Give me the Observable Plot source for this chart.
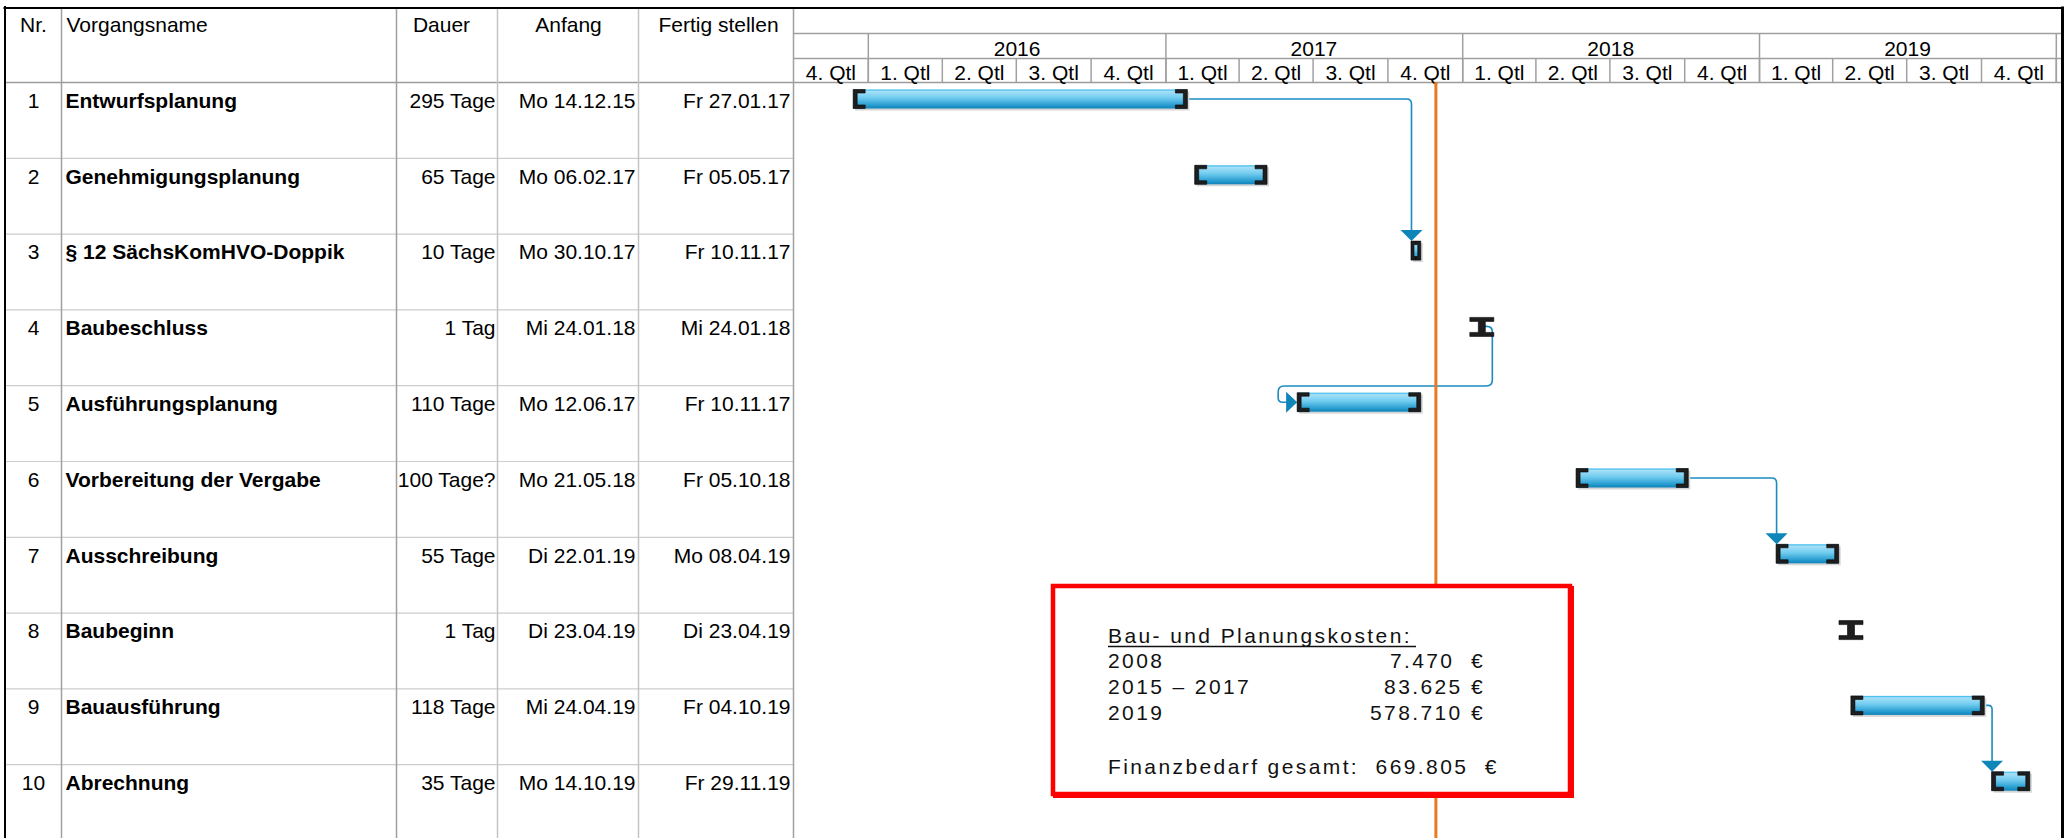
<!DOCTYPE html>
<html><head><meta charset="utf-8">
<script src="https://cdn.jsdelivr.net/npm/d3@7"></script>
<script src="https://cdn.jsdelivr.net/npm/@observablehq/plot@0.6"></script>
<style>
body{margin:0;background:#fff;}
#wrap{position:relative;width:2067px;height:838px;overflow:hidden;background:#fff;}
#wrap svg{position:absolute;left:0;top:0;}
</style></head><body><div id="wrap"></div>
<script>
// ---------- data ----------
const taskNr = [1, 2, 3, 4, 5, 6, 7, 8, 9, 10];
const taskNames = ["Entwurfsplanung", "Genehmigungsplanung", "§ 12 SächsKomHVO-Doppik", "Baubeschluss",
  "Ausführungsplanung", "Vorbereitung der Vergabe", "Ausschreibung", "Baubeginn", "Bauausführung", "Abrechnung"];
const durations = ["295 Tage", "65 Tage", "10 Tage", "1 Tag", "110 Tage", "100 Tage?", "55 Tage", "1 Tag", "118 Tage", "35 Tage"];
const startLabels = ["Mo 14.12.15", "Mo 06.02.17", "Mo 30.10.17", "Mi 24.01.18", "Mo 12.06.17", "Mo 21.05.18",
  "Di 22.01.19", "Di 23.04.19", "Mi 24.04.19", "Mo 14.10.19"];
const finishLabels = ["Fr 27.01.17", "Fr 05.05.17", "Fr 10.11.17", "Mi 24.01.18", "Fr 10.11.17", "Fr 05.10.18",
  "Mo 08.04.19", "Di 23.04.19", "Fr 04.10.19", "Fr 29.11.19"];
const links = [[1, 3], [4, 5], [6, 7], [9, 10]];
const headerLabels = ["Nr.", "Vorgangsname", "Dauer", "Anfang", "Fertig stellen"];
const yearLabels = [2016, 2017, 2018, 2019];
const quarterLabels = ["1. Qtl", "2. Qtl", "3. Qtl", "4. Qtl"];
const statusDate = "2017-11-29";
const costTitle = "Bau- und Planungskosten:";
const costLabels = ["2008", "2015 – 2017", "2019"];
const costValues = ["7.470  €", "83.625 €", "578.710 €"];
const costTotal = "Finanzbedarf gesamt:  669.805  €";

// ---------- layout ----------
const W = 2067, H = 838;
const FONT = "'Liberation Sans', Arial, Helvetica, sans-serif";
const ROW_H = 75.8, HEAD_B = 82;
const GANTT_L = 793, GANTT_R = 2061.5;
const colLines = [61, 396, 497, 638, 793];
const BAR_TOP = 7.5, BAR_H = 19, BAR_MID = 17, TEXT_BASE = 25.3;
const BLUE = "#1a8cbf";

const parseLabel = s => {
  const [dd, mm, yy] = s.split(" ")[1].split(".").map(Number);
  return new Date(Date.UTC(2000 + yy, mm - 1, dd));
};
const tasks = taskNr.map((nr, i) => ({
  nr, row: i, name: taskNames[i], dur: durations[i], startLabel: startLabels[i], finishLabel: finishLabels[i],
  start: parseLabel(startLabels[i]), end: d3.utcDay.offset(parseLabel(finishLabels[i]), 1),
  days: parseInt(durations[i])
}));
const bars = tasks.filter(d => d.days > 1);
const milestones = tasks.filter(d => d.days <= 1);

const xStart = new Date(Date.UTC(2015, 9, 1)), xEnd = new Date(Date.UTC(2020, 0, 8));
const quarterStarts = d3.utcMonth.every(3).range(xStart, xEnd);
const yearStarts = d3.utcYear.range(new Date(Date.UTC(2016, 0, 1)), xEnd);
const quarterCells = quarterStarts.filter(q => d3.utcMonth.offset(q, 3) <= xEnd)
  .map(q => ({mid: new Date((+q + +d3.utcMonth.offset(q, 3)) / 2), label: quarterLabels[q.getUTCMonth() / 3]}));
const yearCells = yearLabels.map(y => ({mid: new Date(Date.UTC(y, 6, 2)), label: String(y)}));

const yScale = {type: "linear", domain: [0, 10], range: [HEAD_B, HEAD_B + 10 * ROW_H], axis: null};

// ---------- helpers ----------
function roundedPath(pts, r) {
  let d = `M${pts[0][0]},${pts[0][1]}`;
  for (let i = 1; i < pts.length - 1; i++) {
    const [x0, y0] = pts[i - 1], [x1, y1] = pts[i], [x2, y2] = pts[i + 1];
    const d1 = Math.hypot(x1 - x0, y1 - y0), d2 = Math.hypot(x2 - x1, y2 - y1);
    const rr = Math.min(r, d1 / 2, d2 / 2);
    const ax = x1 + (x0 - x1) / d1 * rr, ay = y1 + (y0 - y1) / d1 * rr;
    const bx = x1 + (x2 - x1) / d2 * rr, by = y1 + (y2 - y1) / d2 * rr;
    d += `L${ax},${ay}Q${x1},${y1} ${bx},${by}`;
  }
  const l = pts[pts.length - 1];
  return d + `L${l[0]},${l[1]}`;
}

const ibeam = {
  draw(ctx) {
    ctx.moveTo(-12, -9.5); ctx.lineTo(12, -9.5); ctx.lineTo(12, -5.5); ctx.lineTo(3.5, -5.5);
    ctx.lineTo(3.5, 5.5); ctx.lineTo(12, 5.5); ctx.lineTo(12, 9.5); ctx.lineTo(-12, 9.5);
    ctx.lineTo(-12, 5.5); ctx.lineTo(-3.5, 5.5); ctx.lineTo(-3.5, -5.5); ctx.lineTo(-12, -5.5); ctx.closePath();
  }
};

function defsMark() {
  const g = d3.create("svg:g");
  const lg = g.append("defs").append("linearGradient").attr("id", "barGrad")
    .attr("x1", 0).attr("y1", 0).attr("x2", 0).attr("y2", 1);
  [[0, "#27b3ea"], [0.1, "#a6e0f7"], [0.45, "#6fcbef"], [0.85, "#2399cd"], [1, "#0f82b8"]]
    .forEach(([o, c]) => lg.append("stop").attr("offset", o).attr("stop-color", c));
  return g.node();
}

function capsMark(index, scales) {
  const sx = scales.x, sy = scales.y;
  const g = d3.create("svg:g").attr("fill", "#1e1e1e").attr("stroke", "#050505").attr("stroke-width", 0.6);
  for (const d of bars) {
    const xs = sx(d.start), xe = sx(d.end), yt = sy(d.row) + BAR_TOP, h = BAR_H;
    const w = xe - xs;
    const arm = Math.min(12, w / 2), st = w < 20 ? 3 : 4, th = 3.5;
    g.append("path").attr("d",
      `M${xs},${yt}h${arm}v${th}h${-(arm - st)}v${h - 2 * th}h${arm - st}v${th}h${-arm}z`);
    g.append("path").attr("d",
      `M${xe},${yt}h${-arm}v${th}h${arm - st}v${h - 2 * th}h${-(arm - st)}v${th}h${arm}z`);
  }
  return g.node();
}

function linksMark(index, scales) {
  const sx = scales.x, sy = scales.y;
  const g = d3.create("svg:g");
  for (const [a, b] of links) {
    const A = tasks[a - 1], B = tasks[b - 1];
    const fx = A.days <= 1 ? sx(d3.utcHour.offset(A.start, 12)) : sx(A.end);
    const fy = sy(A.row) + BAR_MID;
    const bs = sx(B.start), bTop = sy(B.row) + BAR_TOP, bMid = sy(B.row) + BAR_MID;
    if (bs > fx) {
      const X = bs + 0.5;
      g.append("path").attr("d", roundedPath([[fx, fy], [X, fy], [X, bTop - 10]], 5))
        .attr("fill", "none").attr("stroke", BLUE).attr("stroke-width", 1.6);
      g.append("path").attr("d", `M${X - 11},${bTop - 11}L${X + 11},${bTop - 11}L${X},${bTop}Z`).attr("fill", "#0f86b8");
    } else {
      const pts = [[fx, fy], [fx + 11, fy], [fx + 11, sy(B.row) + 0.8], [bs - 19, sy(B.row) + 0.8], [bs - 19, bMid], [bs - 10, bMid]];
      g.append("path").attr("d", roundedPath(pts, 6))
        .attr("fill", "none").attr("stroke", BLUE).attr("stroke-width", 1.6);
      g.append("path").attr("d", `M${bs - 11},${bMid - 10.5}L${bs - 11},${bMid + 10.5}L${bs},${bMid}Z`).attr("fill", "#0f86b8");
    }
  }
  return g.node();
}

function costBoxMark() {
  const g = d3.create("svg:g");
  g.append("rect").attr("x", 1055).attr("y", 588).attr("width", 517).attr("height", 208)
    .attr("fill", "none").attr("stroke", "#ff0000").attr("stroke-width", 4);
  g.append("rect").attr("x", 1053).attr("y", 586).attr("width", 517).attr("height", 208)
    .attr("fill", "#fff").attr("stroke", "#ff0000").attr("stroke-width", 4.5);
  const t = g.append("g").attr("font-family", FONT).attr("font-size", 21).attr("fill", "#111")
    .attr("text-anchor", "start")
    .style("letter-spacing", "2.4px").style("white-space", "pre");
  const left = 1108, right = 1485;
  t.append("text").attr("x", left).attr("y", 643).attr("text-anchor", "start").text(costTitle);
  g.append("line").attr("x1", left).attr("x2", 1416).attr("y1", 646.5).attr("y2", 646.5)
    .attr("stroke", "#111").attr("stroke-width", 1.6);
  const base = [668, 694, 720];
  costLabels.forEach((l, i) => {
    t.append("text").attr("x", left).attr("y", base[i]).attr("text-anchor", "start").text(l);
    t.append("text").attr("x", right).attr("y", base[i]).attr("text-anchor", "end").text(costValues[i]);
  });
  t.append("text").attr("x", left).attr("y", 774).attr("text-anchor", "start").text(costTotal);
  return g.node();
}

// ---------- table ----------
const txt = {fontSize: 21, fill: "#000", lineAnchor: "bottom"};
const head = {fontSize: 21, fill: "#000", lineAnchor: "bottom", frameAnchor: "top", dy: 31.7};
const table = Plot.plot({
  width: W, height: H, margin: 0,
  style: {background: "#fff", fontFamily: FONT, overflow: "visible"},
  x: {type: "linear", domain: [0, W], range: [0, W], axis: null},
  y: yScale,
  marks: [
    Plot.ruleY(tasks.slice(1), {y: "row", x1: 5, x2: GANTT_L, stroke: "#cdcdcd", strokeWidth: 1.2}),
    Plot.ruleY([0], {x1: 5, x2: GANTT_R, stroke: "#9c9c9c", strokeWidth: 1.5}),
    Plot.ruleX(colLines, {x: d => d, insetTop: 8, stroke: (d, i) => (i === 2 || i === 3) ? "#c4c4c4" : "#a0a0a0", strokeWidth: 1.5}),
    Plot.ruleX([4.5], {x: d => d, insetTop: 6, stroke: "#000", strokeWidth: 2}),
    Plot.ruleY([0], {x1: 3.5, x2: 2064, dy: -74.5, stroke: "#000", strokeWidth: 2}),
    // headers
    Plot.text([headerLabels[0]], {...head, x: 33, text: d => d, textAnchor: "middle"}),
    Plot.text([headerLabels[1]], {...head, x: 66, text: d => d, textAnchor: "start"}),
    Plot.text([headerLabels[2]], {...head, x: 441, text: d => d, textAnchor: "middle"}),
    Plot.text([headerLabels[3]], {...head, x: 568, text: d => d, textAnchor: "middle"}),
    Plot.text([headerLabels[4]], {...head, x: 718, text: d => d, textAnchor: "middle"}),
    // rows
    Plot.text(tasks, {...txt, x: 33, y: "row", dy: TEXT_BASE, text: d => String(d.nr), textAnchor: "middle"}),
    Plot.text(tasks, {...txt, x: 65, y: "row", dy: TEXT_BASE, text: "name", textAnchor: "start", fontWeight: "bold"}),
    Plot.text(tasks, {...txt, x: 495, y: "row", dy: TEXT_BASE, text: "dur", textAnchor: "end"}),
    Plot.text(tasks, {...txt, x: 635, y: "row", dy: TEXT_BASE, text: "startLabel", textAnchor: "end"}),
    Plot.text(tasks, {...txt, x: 790, y: "row", dy: TEXT_BASE, text: "finishLabel", textAnchor: "end"})
  ]
});

// ---------- gantt ----------
const gantt = Plot.plot({
  width: W, height: H, margin: 0,
  style: {background: "transparent", fontFamily: FONT, overflow: "visible"},
  x: {type: "utc", domain: [xStart, xEnd], range: [GANTT_L, GANTT_R], axis: null},
  y: yScale,
  marks: [
    defsMark,
    Plot.ruleY([0], {x1: xStart, x2: xEnd, dy: -49, stroke: "#a0a0a0", strokeWidth: 1.5}),
    Plot.ruleY([0], {x1: xStart, x2: xEnd, dy: -24, stroke: "#a0a0a0", strokeWidth: 1.5}),
    Plot.ruleX(yearStarts, {x: d => d, insetTop: 33, insetBottom: H - HEAD_B, stroke: "#a0a0a0", strokeWidth: 1.5}),
    Plot.ruleX(quarterStarts.slice(1), {x: d => d, insetTop: 58, insetBottom: H - HEAD_B, stroke: "#a0a0a0", strokeWidth: 1.5}),
    Plot.text(yearCells, {x: "mid", text: "label", frameAnchor: "top", dy: 55, lineAnchor: "bottom", fontSize: 21, fill: "#000"}),
    Plot.text(quarterCells, {x: "mid", text: "label", frameAnchor: "top", dy: 79, lineAnchor: "bottom", fontSize: 21, fill: "#000"}),
    linksMark,
    Plot.ruleX([statusDate], {x: d => new Date(d), insetTop: HEAD_B, stroke: "#e97a21", strokeWidth: 3}),
    Plot.rect(bars, {x1: "start", x2: "end", y1: "row", y2: d => d.row + 1, insetTop: BAR_TOP, insetBottom: ROW_H - BAR_TOP - BAR_H,
      fill: "#d6d6d6", dx: 2, dy: 2}),
    Plot.rect(bars, {x1: "start", x2: "end", y1: "row", y2: d => d.row + 1, insetTop: BAR_TOP, insetBottom: ROW_H - BAR_TOP - BAR_H,
      fill: "url(#barGrad)"}),
    capsMark,
    Plot.dot(milestones, {x: d => d3.utcHour.offset(d.start, 12), y: "row", dy: BAR_MID, symbol: ibeam, r: 5,
      fill: "#1e1e1e", stroke: "#050505", strokeWidth: 0.6}),
    costBoxMark,
    Plot.ruleX([xEnd], {x: d => d, insetTop: 6.5, stroke: "#000", strokeWidth: 3, dx: 0.5})
  ]
});

const wrap = document.getElementById("wrap");
wrap.appendChild(table);
wrap.appendChild(gantt);
</script></body></html>
